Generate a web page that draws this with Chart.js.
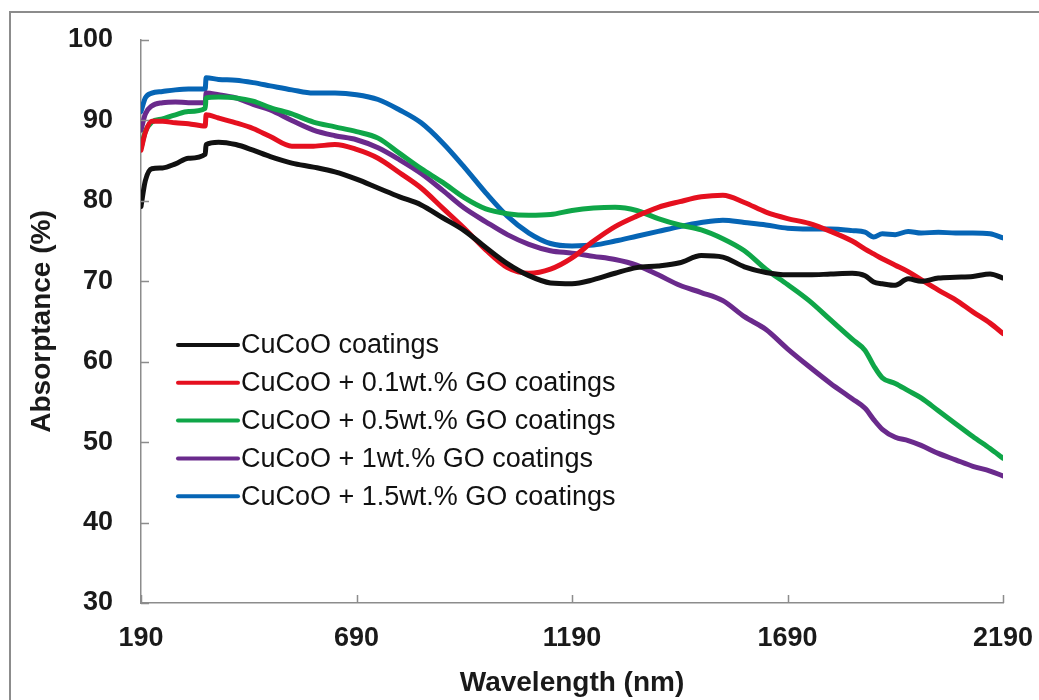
<!DOCTYPE html>
<html>
<head>
<meta charset="utf-8">
<script src="https://cdn.jsdelivr.net/npm/chart.js@4.4.1/dist/chart.umd.min.js"></script>
<style>
  html, body { margin: 0; padding: 0; background: #ffffff; }
  canvas { display: block; }
</style>
</head>
<body>
<canvas id="c" width="1039" height="700"></canvas>
<script>
// ---- data ----
const wavelengths = [190, 200, 215, 240, 270, 300, 339, 341, 370, 410, 450, 490, 540, 590, 640, 690, 740, 790, 840, 890, 940, 990, 1040, 1090, 1140, 1190, 1240, 1290, 1340, 1390, 1440, 1490, 1540, 1590, 1640, 1690, 1740, 1790, 1840, 1870, 1890, 1910, 1940, 1970, 2000, 2040, 2080, 2120, 2160, 2190];

const cucoo = [79.3, 82.5, 84.0, 84.1, 84.6, 85.3, 85.8, 87.0, 87.3, 87.0, 86.3, 85.5, 84.7, 84.2, 83.6, 82.7, 81.6, 80.5, 79.5, 77.9, 76.3, 74.2, 72.2, 70.7, 69.8, 69.7, 70.2, 71.0, 71.7, 71.9, 72.3, 73.2, 73.0, 71.8, 71.1, 70.8, 70.8, 70.9, 71.0, 70.7, 69.9, 69.7, 69.5, 70.3, 70.0, 70.4, 70.5, 70.6, 70.9, 70.4];
const go01 = [86.3, 88.5, 89.9, 89.9, 89.7, 89.6, 89.3, 90.7, 90.3, 89.7, 89.0, 88.0, 86.8, 86.8, 87.0, 86.4, 85.3, 83.5, 81.6, 79.1, 76.6, 73.9, 71.7, 71.0, 71.5, 72.9, 75.0, 76.8, 78.1, 79.2, 79.9, 80.5, 80.7, 79.8, 78.6, 77.8, 77.2, 76.2, 75.0, 74.0, 73.4, 72.8, 72.0, 71.2, 70.2, 68.9, 67.7, 66.2, 64.8, 63.5];
const go05 = [86.6, 88.6, 89.8, 90.2, 90.7, 91.1, 91.5, 92.8, 92.9, 92.8, 92.4, 91.6, 90.8, 89.8, 89.2, 88.6, 87.8, 85.9, 84.0, 82.3, 80.4, 79.0, 78.4, 78.2, 78.3, 78.8, 79.1, 79.2, 78.8, 77.8, 77.0, 76.4, 75.3, 73.8, 71.5, 69.6, 67.6, 65.2, 62.8, 61.4, 59.5, 58.0, 57.3, 56.4, 55.5, 53.9, 52.3, 50.7, 49.2, 48.0];
const go10 = [88.8, 90.8, 91.8, 92.2, 92.3, 92.2, 92.2, 93.4, 93.2, 92.8, 92.0, 91.3, 90.0, 88.8, 88.1, 87.6, 86.6, 85.1, 83.4, 81.3, 79.1, 77.4, 75.8, 74.6, 73.8, 73.5, 73.1, 72.7, 72.0, 70.8, 69.5, 68.6, 67.6, 65.6, 64.0, 61.6, 59.4, 57.3, 55.4, 54.2, 52.8, 51.6, 50.6, 50.2, 49.6, 48.6, 47.8, 47.0, 46.4, 45.8];
const go15 = [91.1, 92.8, 93.4, 93.6, 93.8, 93.9, 93.9, 95.3, 95.1, 95.0, 94.7, 94.3, 93.8, 93.4, 93.4, 93.2, 92.6, 91.3, 89.7, 87.2, 84.2, 81.0, 78.1, 76.0, 74.7, 74.4, 74.5, 75.0, 75.6, 76.2, 76.8, 77.3, 77.6, 77.3, 77.0, 76.6, 76.5, 76.5, 76.3, 76.1, 75.5, 75.9, 75.8, 76.2, 76.0, 76.1, 76.0, 76.0, 75.9, 75.4];

const seriesLabels = ['CuCoO coatings', 'CuCoO + 0.1wt.% GO coatings', 'CuCoO + 0.5wt.% GO coatings', 'CuCoO + 1wt.% GO coatings', 'CuCoO + 1.5wt.% GO coatings'];
const xTickValues = [190, 690, 1190, 1690, 2190];
const yTickValues = [30, 40, 50, 60, 70, 80, 90, 100];
const xTitle = 'Wavelength (nm)';
const yTitle = 'Absorptance (%)';

// ---- styling ----
const seriesColors = ['#111111', '#e5101f', '#0fa648', '#6a2a8c', '#0665b5'];
const FONT = '"Liberation Sans", Arial, Helvetica, sans-serif';
const axisGray = '#8c8c8c';

const allSeries = [cucoo, go01, go05, go10, go15];
const datasets = allSeries.map((vals, i) => ({
  label: seriesLabels[i],
  data: wavelengths.map((w, j) => ({ x: w, y: vals[j] })),
  borderColor: seriesColors[i],
  backgroundColor: seriesColors[i],
  borderWidth: 5,
  pointRadius: 0,
  fill: false,
  cubicInterpolationMode: 'monotone',
  borderJoinStyle: 'round',
  borderCapStyle: 'round'
}));

const framePlugin = {
  id: 'frame',
  beforeDraw(chart) {
    const ctx = chart.ctx;
    ctx.save();
    ctx.fillStyle = '#ffffff';
    ctx.fillRect(0, 0, chart.width, chart.height);
    ctx.strokeStyle = axisGray;
    ctx.lineWidth = 2;
    ctx.strokeRect(10, 12, chart.width + 20, chart.height + 20);
    ctx.restore();
  }
};

const innerTicksPlugin = {
  id: 'innerTicks',
  afterDraw(chart) {
    const ctx = chart.ctx;
    const xs = chart.scales.x, ys = chart.scales.y;
    const area = chart.chartArea;
    ctx.save();
    ctx.strokeStyle = axisGray;
    ctx.lineWidth = 1.5;
    ctx.beginPath();
    xTickValues.forEach(v => {
      const px = Math.round(xs.getPixelForValue(v)) + 0.5;
      ctx.moveTo(px, area.bottom);
      ctx.lineTo(px, area.bottom - 8);
    });
    yTickValues.forEach(v => {
      const py = Math.round(ys.getPixelForValue(v)) + 0.5;
      ctx.moveTo(area.left, py);
      ctx.lineTo(area.left + 8, py);
    });
    ctx.stroke();
    ctx.restore();
  }
};

const insideLegendPlugin = {
  id: 'insideLegend',
  afterDraw(chart) {
    const ctx = chart.ctx;
    const area = chart.chartArea;
    const x0 = area.left + 37;
    const lineLen = 60;
    const y0 = 345;
    const rowH = 37.8;
    ctx.save();
    ctx.font = '27px ' + FONT;
    ctx.textBaseline = 'middle';
    ctx.textAlign = 'left';
    chart.data.datasets.forEach((ds, i) => {
      const y = y0 + i * rowH;
      ctx.strokeStyle = ds.borderColor;
      ctx.lineWidth = 4;
      ctx.lineCap = 'round';
      ctx.beginPath();
      ctx.moveTo(x0, y);
      ctx.lineTo(x0 + lineLen, y);
      ctx.stroke();
      ctx.fillStyle = '#111111';
      ctx.fillText(ds.label, x0 + lineLen + 3, y + 1);
    });
    ctx.restore();
  }
};

new Chart(document.getElementById('c'), {
  type: 'line',
  data: { datasets },
  plugins: [framePlugin, innerTicksPlugin, insideLegendPlugin],
  options: {
    responsive: false,
    devicePixelRatio: 1,
    animation: false,
    events: [],
    layout: { padding: { top: 40, right: 36, left: 0, bottom: 0 } },
    plugins: { legend: { display: false }, tooltip: { enabled: false } },
    scales: {
      x: {
        type: 'linear',
        min: 190,
        max: 2190,
        afterBuildTicks: s => { s.ticks = xTickValues.map(v => ({ value: v })); },
        afterFit: s => { s.height = 97; },
        ticks: {
          font: { family: FONT, size: 27, weight: 'bold' },
          color: '#1a1a1a',
          padding: 0,
          maxRotation: 0,
          autoSkip: false,
          callback: v => String(v)
        },
        grid: { drawOnChartArea: false, drawTicks: true, tickLength: 19, tickColor: 'rgba(0,0,0,0)' },
        border: { display: true, color: axisGray, width: 1.5 },
        title: {
          display: true,
          text: xTitle,
          font: { family: FONT, size: 28, weight: 'bold' },
          color: '#1a1a1a',
          padding: { top: 0, bottom: 0 }
        }
      },
      y: {
        type: 'linear',
        min: 30,
        max: 100,
        afterBuildTicks: s => { s.ticks = yTickValues.map(v => ({ value: v })); },
        afterFit: s => { s.width = 141; },
        ticks: {
          font: { family: FONT, size: 27, weight: 'bold' },
          color: '#1a1a1a',
          padding: 2,
          callback: v => String(v)
        },
        grid: { drawOnChartArea: false, drawTicks: true, tickLength: 26, tickColor: 'rgba(0,0,0,0)' },
        border: { display: true, color: axisGray, width: 1.5 },
        title: {
          display: true,
          text: yTitle,
          font: { family: FONT, size: 28, weight: 'bold' },
          color: '#1a1a1a',
          padding: { top: 25, bottom: 0 }
        }
      }
    }
  }
});
</script>
</body>
</html>
